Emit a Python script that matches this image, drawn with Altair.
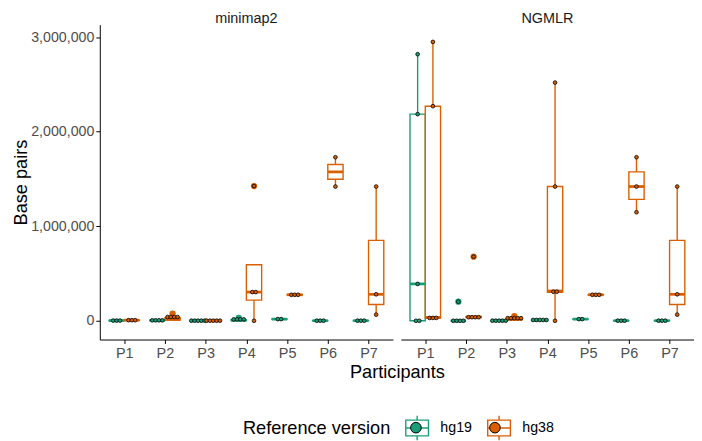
import altair as alt
import numpy as np
import pandas as pd

# ---------------- data ----------------
participants = ["P1", "P2", "P3", "P4", "P5", "P6", "P7"]
aligners = ["minimap2", "NGMLR"]
refs = ["hg19", "hg38"]
colors = ["#1b9e77", "#d95f02"]

minimap2_hg19 = [[0, 2000, 4000], [2000, 4000, 5000, 8000], [0, 0, 1000, 1000, 2000],
                 [0, 3000, 6000, 30000], [15000, 20000], [0, 1000, 2000], [0, 1000, 2000]]
minimap2_hg38 = [[3000, 6000, 9000], [5000, 10000, 20000, 75000], [0, 0, 1000, 1000, 2000],
                 [0, 292000, 315000, 1425000], [270000, 275000, 280000], [1420000, 1730000],
                 [65000, 280000, 1420000]]
ngmlr_hg19 = [[0, 0, 390000, 2186000, 2820000], [0, 0, 0, 0, 202000], [0, 0, 1000, 1000, 2000],
              [5000, 6000, 8000, 10000, 12000], [15000, 20000], [0, 1000, 2000], [0, 1000, 2000]]
ngmlr_hg38 = [[25000, 30000, 35000, 2270000, 2950000], [30000, 35000, 40000, 45000, 678000],
              [5000, 10000, 15000, 20000, 50000], [0, 300000, 315000, 1420000, 2520000],
              [270000, 275000, 280000], [1148000, 1420000, 1730000], [65000, 280000, 1420000]]

series = {("minimap2", "hg19"): minimap2_hg19, ("minimap2", "hg38"): minimap2_hg38,
          ("NGMLR", "hg19"): ngmlr_hg19, ("NGMLR", "hg38"): ngmlr_hg38}

# ---------------- layout constants ----------------
W = 297                 # panel width
STRIP_FS, TICK_FS, YTICK_FS, TITLE_FS, LEG_LABEL_FS = 14.6, 14.6, 14.4, 18.4, 14.4
T, B, ZERO_Y, PX_PER_M = 21.6, 340.7, 321.7, 95.8
H = round(B - T)
YMAX = (ZERO_Y - T) / PX_PER_M * 1e6
YMIN = -(B - ZERO_Y) / PX_PER_M * 1e6
DODGE = 0.1875
BOXHALF = 0.1875
BINWIDTH = 100000
DOT_SP = 3.4 / (W / 7.2)
LX, LY = 145, 395
LEG_TITLE_PAD = 13
LEG_COL_PAD = 12
LEG_TITLE = "Reference version"
# text advance widths (Arial/Liberation Sans metrics) used to line up the dot overlay legend
TITLE_W = 8.114 * TITLE_FS
LABEL_W = 4 * 0.556 * LEG_LABEL_FS

# ---------------- derived tables ----------------
box_rows, out_rows, dot_rows = [], [], []
for (al, rf), groups in series.items():
    for i, vals in enumerate(groups):
        p = i + 1
        xpos = p + (-DODGE if rf == "hg19" else DODGE)
        a = np.array(vals, dtype=float)
        q1, med, q3 = np.percentile(a, [25, 50, 75])
        iqr = q3 - q1
        lo_f, hi_f = q1 - 1.5 * iqr, q3 + 1.5 * iqr
        inside = a[(a >= lo_f) & (a <= hi_f)]
        box_rows.append(dict(aligner=al, ref=rf, xpos=xpos, xl=xpos - BOXHALF, xr=xpos + BOXHALF,
                             q1=q1, med=med, q3=q3, wlo=inside.min(), whi=inside.max()))
        for v in a[(a < lo_f) | (a > hi_f)]:
            out_rows.append(dict(aligner=al, ref=rf, xpos=xpos, value=v))
        s = sorted(vals)
        j = 0
        while j < len(s):
            start = s[j]
            grp = [s[j]]
            k = j + 1
            while k < len(s) and s[k] - start < BINWIDTH:
                grp.append(s[k])
                k += 1
            n = len(grp)
            yc = (min(grp) + max(grp)) / 2
            for m in range(n):
                dot_rows.append(dict(aligner=al, ref=rf, xdot=xpos + (m - (n - 1) / 2) * DOT_SP, ydot=yc))
            j = k

boxes_df = pd.DataFrame(box_rows)
out_df = pd.DataFrame(out_rows)
dots_df = pd.DataFrame(dot_rows)

BOX_PATH = "M-0.92,-0.64H0.92V0.64H-0.92Z M0,-1V-0.64 M0,0.64V1 M-0.92,0H0.92"
DOT_PATH = "M-0.43,0A0.43,0.43,0,1,1,0.43,0A0.43,0.43,0,1,1,-0.43,0Z"

common_legend = dict(orient="none", legendY=LY, direction="horizontal",
                     labelFontSize=LEG_LABEL_FS, labelOffset=10,
                     symbolSize=625, labelBaseline="middle")
box_legend = alt.Legend(legendX=LX, title=LEG_TITLE, titleOrient="left", titleFontSize=TITLE_FS,
                        titleFontWeight="normal", titleAnchor="middle", titleBaseline="middle",
                        titlePadding=LEG_TITLE_PAD, titleColor="black", columnPadding=LEG_COL_PAD,
                        symbolType=BOX_PATH, symbolStrokeWidth=1.4,
                        labelColor="black", symbolFillColor="transparent", zindex=1,
                        **common_legend)
dot_legend = alt.Legend(legendX=LX + TITLE_W + LEG_TITLE_PAD, title=None,
                        columnPadding=LEG_COL_PAD + LABEL_W, labelExpr="''",
                        symbolType=DOT_PATH, symbolStrokeColor="black", symbolStrokeWidth=1,
                        zindex=2, **common_legend)

stroke_scale = alt.Scale(domain=refs, range=colors)
fill_scale = alt.Scale(range=colors)


def panel(al, first):
    b = boxes_df[boxes_df.aligner == al]
    o = out_df[out_df.aligner == al]
    d = dots_df[dots_df.aligner == al]
    xs = alt.Scale(domain=[0.4, 7.6], nice=False, zero=False)
    ys = alt.Scale(domain=[YMIN, YMAX], nice=False, zero=False)
    if first:
        xaxis = alt.Axis(values=list(range(1, 8)), labelExpr="'P' + datum.value", title="Participants",
                         titleX=W + 4, titlePadding=3, labelPadding=2)
        yaxis = alt.Axis(values=[0, 1000000, 2000000, 3000000], format=",d", title="Base pairs",
                         titlePadding=0, labelPadding=2, labelFontSize=YTICK_FS)
    else:
        xaxis = alt.Axis(values=list(range(1, 8)), labelExpr="'P' + datum.value", title=None,
                         labelPadding=2)
        yaxis = None

    def X(f):
        return alt.X(f, type="quantitative", scale=xs, axis=xaxis)

    def Y(f):
        return alt.Y(f, type="quantitative", scale=ys, axis=yaxis)

    stroke = alt.Stroke("ref:N", scale=stroke_scale, legend=box_legend)
    fill = alt.Fill("ref:N", scale=fill_scale, legend=dot_legend)

    outl = alt.Chart(o).mark_circle(size=40, opacity=1).encode(
        x=X("xpos"), y=Y("value"), fill=fill)
    whisk = alt.Chart(b).mark_rule(strokeWidth=1.4).encode(
        x=X("xpos"), y=Y("wlo"), y2="whi", stroke=stroke)
    box = alt.Chart(b).mark_rect(fill="white", strokeWidth=1.4).encode(
        x=X("xl"), x2="xr", y=Y("q1"), y2="q3", stroke=stroke)
    med = alt.Chart(b).mark_rule(strokeWidth=2.8).encode(
        x=X("xl"), x2="xr", y=Y("med"), stroke=stroke)
    dots = alt.Chart(d).mark_point(filled=True, shape="circle", size=14, stroke="black",
                                   strokeWidth=0.8, opacity=1).encode(
        x=X("xdot"), y=Y("ydot"), fill=fill)
    return alt.layer(outl, whisk, box, med, dots).properties(
        width=W, height=H,
        title=alt.TitleParams(al, fontSize=STRIP_FS, fontWeight="normal", color="#1a1a1a",
                              offset=-1, anchor="middle"))


chart = alt.hconcat(panel("minimap2", True), panel("NGMLR", False), spacing=8, bounds="flush").properties(
    padding={"left": 3, "top": 0, "right": 0, "bottom": 0}
).configure(font="Liberation Sans").configure_view(stroke=None).configure_axis(
    domainColor="black", tickColor="black", domainWidth=1, tickWidth=1, labelColor="#4d4d4d",
    labelFontSize=TICK_FS, titleFontSize=TITLE_FS, titleFontWeight="normal", titleColor="black",
    grid=False, tickSize=4
)

chart.save("out.html", embed_options={"renderer": "svg", "actions": False})
